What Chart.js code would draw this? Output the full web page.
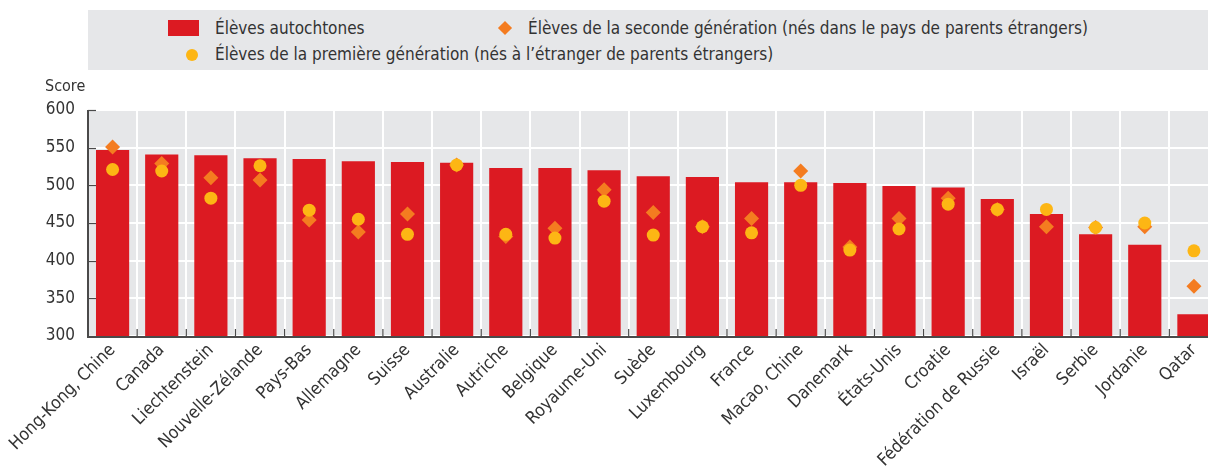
<!DOCTYPE html>
<html>
<head>
<meta charset="utf-8">
<script src="https://cdn.jsdelivr.net/npm/chart.js@4"></script>
<style>
  body {
    margin: 0;
    width: 1208px;
    height: 466px;
    overflow: hidden;
    position: relative;
    background: #fff;
    font-family: "Liberation Sans Narrow", "DejaVu Sans Condensed", "Arial Narrow", sans-serif;
    color: #333;
  }
  #chart { position: absolute; left: 0; top: 0; }
  .legend {
    position: absolute;
    left: 88px;
    top: 10px;
    width: 1120px;
    height: 60px;
    background: #e6e7e9;
    font-size: 17px;
  }
  .item { position: absolute; white-space: nowrap; line-height: 20px; }
  .swatch { position: absolute; }
  .score { position: absolute; left: 45px; top: 76px; font-size: 16px; }
</style>
</head>
<body>
<canvas id="chart" width="1226" height="466"></canvas>

<div class="legend">
  <div class="swatch" style="left:80px; top:10px; width:31px; height:16px; background:#dc1a22;"></div>
  <div class="item" style="left:127px; top:8px;">Élèves autochtones</div>
  <div class="swatch" style="left:412px; top:13px; width:10px; height:10px; background:#f47c20; transform:rotate(45deg);"></div>
  <div class="item" style="left:440px; top:8px;">Élèves de la seconde génération (nés dans le pays de parents étrangers)</div>
  <div class="swatch" style="left:98px; top:39px; width:12px; height:12px; border-radius:50%; background:#fdb614;"></div>
  <div class="item" style="left:127px; top:34px;">Élèves de la première génération (nés à l’étranger de parents étrangers)</div>
</div>
<div class="score">Score</div>

<script>
// Countries, sorted by score of native students
const countries = ['Hong-Kong, Chine', 'Canada', 'Liechtenstein', 'Nouvelle-Zélande', 'Pays-Bas', 'Allemagne',
  'Suisse', 'Australie', 'Autriche', 'Belgique', 'Royaume-Uni', 'Suède', 'Luxembourg', 'France',
  'Macao, Chine', 'Danemark', 'États-Unis', 'Croatie', 'Fédération de Russie', 'Israël', 'Serbie',
  'Jordanie', 'Qatar'];

// Scores
const nativeScores = [547, 541, 540, 536, 535, 532, 531, 530, 523, 523, 520, 512, 511, 504, 504, 503, 499, 497, 482, 462, 435, 421, 329];
const secondGen = [551, 529, 510, 507, 454, 438, 462, 527, 432, 443, 494, 464, 445, 456, 519, 418, 456, 483, 468, 445, 444, 445, 366];
const firstGen = [521, 519, 483, 526, 467, 455, 435, 527, 435, 430, 479, 434, 445, 437, 500, 414, 442, 475, 468, 468, 444, 450, 413];

const yTicks = [300, 350, 400, 450, 500, 550, 600];

const fontFamily = '"Liberation Sans Narrow", "DejaVu Sans Condensed", "Arial Narrow", sans-serif';
const textColor = '#333';
const axisColor = '#4a4a4a';

// Gray plot background
const plotBackground = {
  id: 'plotBackground',
  beforeDraw(chart) {
    const { ctx, chartArea } = chart;
    ctx.save();
    ctx.fillStyle = '#e6e7e9';
    ctx.fillRect(chartArea.left, chartArea.top, chartArea.right - chartArea.left, chartArea.bottom - chartArea.top);
    ctx.restore();
  }
};

// Axis lines and the small inward ticks
const axisLines = {
  id: 'axisLines',
  afterDatasetsDraw(chart) {
    const { ctx, chartArea, scales } = chart;
    ctx.save();
    ctx.strokeStyle = axisColor;
    ctx.lineWidth = 1.2;
    // y ticks pointing right
    yTicks.forEach(v => {
      const y = Math.round(scales.y.getPixelForValue(v)) + 0.5;
      ctx.beginPath();
      ctx.moveTo(chartArea.left, y);
      ctx.lineTo(chartArea.left + 8, y);
      ctx.stroke();
    });
    // x ticks between categories pointing up
    for (let i = 1; i < countries.length; i++) {
      const x = (scales.x.getPixelForTick(i - 1) + scales.x.getPixelForTick(i)) / 2;
      ctx.beginPath();
      ctx.moveTo(x, chartArea.bottom);
      ctx.lineTo(x, chartArea.bottom - 7);
      ctx.stroke();
    }
    ctx.lineWidth = 2;
    ctx.beginPath();
    ctx.moveTo(chartArea.left, chartArea.top);
    ctx.lineTo(chartArea.left, chartArea.bottom + 1);
    ctx.lineTo(chartArea.right, chartArea.bottom + 1);
    ctx.stroke();
    ctx.restore();
  }
};

new Chart(document.getElementById('chart'), {
  type: 'bar',
  data: {
    labels: countries,
    datasets: [
      {
        type: 'bar',
        label: 'Élèves autochtones',
        data: nativeScores,
        backgroundColor: '#dc1a22',
        barPercentage: 0.675,
        categoryPercentage: 1,
        order: 3
      },
      {
        type: 'line',
        label: 'Élèves de la seconde génération (nés dans le pays de parents étrangers)',
        data: secondGen,
        showLine: false,
        pointStyle: 'rectRot',
        pointRadius: 7.5,
        pointBackgroundColor: '#f47c20',
        pointBorderWidth: 0,
        order: 2
      },
      {
        type: 'line',
        label: 'Élèves de la première génération (nés à l’étranger de parents étrangers)',
        data: firstGen,
        showLine: false,
        pointStyle: 'circle',
        pointRadius: 6.5,
        pointBackgroundColor: '#fdb614',
        pointBorderWidth: 0,
        order: 1
      }
    ]
  },
  options: {
    responsive: false,
    animation: false,
    devicePixelRatio: 1,
    layout: {
      padding: { top: 110, left: 0, right: 0, bottom: 0 }
    },
    plugins: {
      legend: { display: false },
      tooltip: { enabled: false }
    },
    scales: {
      x: {
        offset: true,
        grid: {
          offset: true,
          color: '#fff',
          lineWidth: 2,
          drawTicks: false
        },
        border: { display: false },
        ticks: {
          color: textColor,
          font: { family: fontFamily, size: 17.5 },
          minRotation: 45,
          maxRotation: 45,
          autoSkip: false,
          padding: 4
        },
        afterFit(scale) {
          scale.height = 130;
          scale.paddingLeft = 0;
          scale.paddingRight = 0;
        }
      },
      y: {
        min: 300,
        max: 600,
        grid: {
          color: '#fff',
          lineWidth: 2,
          drawTicks: false
        },
        border: { display: false },
        ticks: {
          stepSize: 50,
          color: textColor,
          font: { family: fontFamily, size: 17 },
          padding: 13
        },
        afterFit(scale) {
          scale.width = 88;
        }
      }
    }
  },
  plugins: [plotBackground, axisLines]
});
</script>
</body>
</html>
